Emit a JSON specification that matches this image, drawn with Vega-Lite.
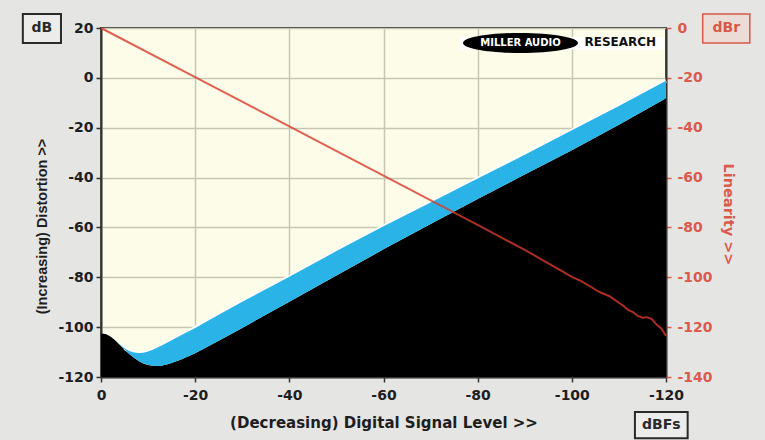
{
  "$schema": "https://vega.github.io/schema/vega-lite/v6.json",
  "width": 565,
  "height": 349,
  "autosize": {"type": "none"},
  "padding": {"left": 101, "top": 28, "right": 99, "bottom": 63},
  "background": "#e5e5e4",
  "config": {
    "view": {"fill": "#fcfce9", "stroke": "#333333", "strokeWidth": 2},
    "font": "DejaVu Sans",
    "axisX": {
      "labelFlush": false,
      "labelOverlap": false,
      "labelFont": "DejaVu Sans",
      "labelFontWeight": "bold",
      "labelFontSize": 14,
      "labelColor": "#1e1e1e",
      "labelPadding": 6,
      "tickSize": 5,
      "tickColor": "#333333",
      "tickWidth": 1.5,
      "domainColor": "#333333",
      "domainWidth": 2,
      "grid": true,
      "gridColor": "#c6c6b5",
      "gridWidth": 1.5,
      "titleFont": "DejaVu Sans",
      "titleFontWeight": "bold",
      "titleFontSize": 15,
      "titleColor": "#1e1e1e",
      "titlePadding": 13
    }
  },
  "datasets": {
    "band": [
      {"x": 0, "lower": -102.5, "upper": -102.5},
      {"x": -1, "lower": -102.8, "upper": -102.8},
      {"x": -2, "lower": -103.8, "upper": -103.8},
      {"x": -3, "lower": -105.3, "upper": -105.3},
      {"x": -4, "lower": -107.2, "upper": -107.0},
      {"x": -5, "lower": -109.0, "upper": -108.5},
      {"x": -6, "lower": -110.8, "upper": -109.6},
      {"x": -7, "lower": -112.3, "upper": -110.2},
      {"x": -8, "lower": -113.6, "upper": -110.4},
      {"x": -9, "lower": -114.6, "upper": -110.3},
      {"x": -10, "lower": -115.2, "upper": -109.8},
      {"x": -11, "lower": -115.5, "upper": -109.1},
      {"x": -12, "lower": -115.6, "upper": -108.2},
      {"x": -13, "lower": -115.4, "upper": -107.3},
      {"x": -14, "lower": -115.0, "upper": -106.3},
      {"x": -15, "lower": -114.4, "upper": -105.3},
      {"x": -17, "lower": -113.0, "upper": -103.3},
      {"x": -20, "lower": -110.5, "upper": -100.3},
      {"x": -25, "lower": -105.5, "upper": -95.0},
      {"x": -30, "lower": -100.3, "upper": -89.8},
      {"x": -40, "lower": -89.8, "upper": -79.8},
      {"x": -50, "lower": -79.3, "upper": -69.5},
      {"x": -60, "lower": -68.8, "upper": -59.5},
      {"x": -70, "lower": -58.6, "upper": -50.0},
      {"x": -80, "lower": -48.6, "upper": -40.4},
      {"x": -90, "lower": -38.8, "upper": -30.8},
      {"x": -100, "lower": -29.0, "upper": -21.0},
      {"x": -110, "lower": -18.8, "upper": -11.3},
      {"x": -120, "lower": -8.2, "upper": -1.2}
    ],
    "lin": [
      {"x": 0, "dbr": 0},
      {"x": -20, "dbr": -19.7},
      {"x": -40, "dbr": -39.5},
      {"x": -60, "dbr": -59.2},
      {"x": -80, "dbr": -79.0},
      {"x": -90, "dbr": -89.0},
      {"x": -95, "dbr": -94.4},
      {"x": -98, "dbr": -97.6},
      {"x": -100, "dbr": -99.8},
      {"x": -102, "dbr": -101.5},
      {"x": -104, "dbr": -103.8},
      {"x": -106, "dbr": -106.0},
      {"x": -108, "dbr": -107.6},
      {"x": -110, "dbr": -110.2},
      {"x": -111, "dbr": -111.5},
      {"x": -112, "dbr": -113.2},
      {"x": -113, "dbr": -114.0},
      {"x": -114, "dbr": -115.5},
      {"x": -115, "dbr": -116.2},
      {"x": -116, "dbr": -116.0},
      {"x": -117, "dbr": -116.8},
      {"x": -118, "dbr": -119.0},
      {"x": -119, "dbr": -120.5},
      {"x": -120, "dbr": -123.5}
    ]
  },
  "layer": [
    {
      "data": {"name": "band"},
      "mark": {"type": "area", "color": "#000000"},
      "encoding": {
        "x": {
          "field": "x", "type": "quantitative",
          "scale": {"domain": [-120, 0], "reverse": true, "nice": false},
          "axis": {
            "title": "(Decreasing) Digital Signal Level >>",
            "values": [0, -20, -40, -60, -80, -100, -120],
            "labelExpr": "toString(datum.value)"
          }
        },
        "y": {
          "field": "lower", "type": "quantitative",
          "scale": {"domain": [-120, 20], "nice": false},
          "axis": {
            "orient": "left",
            "values": [20, 0, -20, -40, -60, -80, -100, -120],
            "labelExpr": "toString(datum.value)",
            "labelFlush": false,
            "labelOverlap": false,
            "labelFont": "DejaVu Sans",
            "labelFontWeight": "bold",
            "labelFontSize": 14,
            "labelColor": "#1e1e1e",
            "labelPadding": 3,
            "tickSize": 5,
            "tickColor": "#333333",
            "tickWidth": 1.5,
            "domainColor": "#333333",
            "domainWidth": 2,
            "grid": true,
            "gridColor": "#c6c6b5",
            "gridWidth": 1.5,
            "title": "(Increasing) Distortion >>",
            "titleFont": "Liberation Sans",
            "titleFontWeight": "bold",
            "titleFontSize": 14.5,
            "titleColor": "#1e1e1e",
            "titlePadding": 8,
            "titleY": 198
          }
        },
        "y2": {"datum": -120}
      }
    },
    {
      "data": {"name": "band"},
      "transform": [{"filter": "datum.x <= -5"}],
      "mark": {"type": "line", "color": "#ffffff", "strokeWidth": 3.5},
      "encoding": {
        "x": {"field": "x", "type": "quantitative", "scale": {"domain": [-120, 0], "reverse": true, "nice": false}},
        "y": {"field": "upper", "type": "quantitative", "scale": {"domain": [-120, 20], "nice": false}, "axis": null}
      }
    },
    {
      "data": {"name": "band"},
      "mark": {"type": "area", "color": "#29b3e6"},
      "encoding": {
        "x": {"field": "x", "type": "quantitative", "scale": {"domain": [-120, 0], "reverse": true, "nice": false}},
        "y": {"field": "upper", "type": "quantitative", "scale": {"domain": [-120, 20], "nice": false}, "axis": null},
        "y2": {"field": "lower"}
      }
    },
    {
      "data": {"values": [{}]},
      "mark": {"type": "rect", "fill": "#ffffff", "clip": false},
      "encoding": {
        "x": {"datum": -76.2, "type": "quantitative", "scale": {"domain": [-120, 0], "reverse": true, "nice": false}},
        "x2": {"datum": -119.6},
        "y": {"datum": 16.4, "type": "quantitative", "scale": {"domain": [-120, 20], "nice": false}, "axis": null},
        "y2": {"datum": 11.4}
      }
    },
    {
      "data": {"values": [{}]},
      "mark": {
        "type": "point",
        "shape": "M-1,0C-1,-0.0961 -0.5523,-0.174 0,-0.174C0.5523,-0.174 1,-0.0961 1,0C1,0.0961 0.5523,0.174 0,0.174C-0.5523,0.174 -1,0.0961 -1,0Z",
        "filled": true, "color": "#000000", "opacity": 1, "size": 13225, "clip": false
      },
      "encoding": {
        "x": {"datum": -89.1, "type": "quantitative", "scale": {"domain": [-120, 0], "reverse": true, "nice": false}},
        "y": {"datum": 14, "type": "quantitative", "scale": {"domain": [-120, 20], "nice": false}, "axis": null}
      }
    },
    {
      "data": {"values": [{"t": "MILLER AUDIO"}]},
      "mark": {"type": "text", "font": "DejaVu Sans", "fontWeight": "bold", "fontSize": 10, "color": "#ffffff", "align": "center", "baseline": "middle", "clip": false},
      "encoding": {
        "x": {"datum": -89.1, "type": "quantitative", "scale": {"domain": [-120, 0], "reverse": true, "nice": false}},
        "y": {"datum": 14, "type": "quantitative", "scale": {"domain": [-120, 20], "nice": false}, "axis": null},
        "text": {"field": "t"}
      }
    },
    {
      "data": {"values": [{"t": "RESEARCH"}]},
      "mark": {"type": "text", "font": "DejaVu Sans", "fontWeight": "bold", "fontSize": 12, "color": "#111111", "align": "center", "baseline": "middle", "clip": false},
      "encoding": {
        "x": {"datum": -110.3, "type": "quantitative", "scale": {"domain": [-120, 0], "reverse": true, "nice": false}},
        "y": {"datum": 14.2, "type": "quantitative", "scale": {"domain": [-120, 20], "nice": false}, "axis": null},
        "text": {"field": "t"}
      }
    },
    {
      "data": {"values": [{}]},
      "mark": {"type": "rect", "fill": "#ececea", "stroke": "#2a2a2a", "strokeWidth": 2, "clip": false},
      "encoding": {
        "x": {"datum": 16.6, "type": "quantitative", "scale": {"domain": [-120, 0], "reverse": true, "nice": false}},
        "x2": {"datum": 8.5},
        "y": {"datum": 25.6, "type": "quantitative", "scale": {"domain": [-120, 20], "nice": false}, "axis": null},
        "y2": {"datum": 14}
      }
    },
    {
      "data": {"values": [{}]},
      "mark": {"type": "rect", "fill": "#ecdcd6", "stroke": "#d9584a", "strokeWidth": 1.5, "clip": false},
      "encoding": {
        "x": {"datum": -127.8, "type": "quantitative", "scale": {"domain": [-120, 0], "reverse": true, "nice": false}},
        "x2": {"datum": -137.8},
        "y": {"datum": 25.6, "type": "quantitative", "scale": {"domain": [-120, 20], "nice": false}, "axis": null},
        "y2": {"datum": 14}
      }
    },
    {
      "data": {"values": [{}]},
      "mark": {"type": "rect", "fill": "#ececea", "stroke": "#2a2a2a", "strokeWidth": 2, "clip": false},
      "encoding": {
        "x": {"datum": -113.4, "type": "quantitative", "scale": {"domain": [-120, 0], "reverse": true, "nice": false}},
        "x2": {"datum": -124.6},
        "y": {"datum": -134.0, "type": "quantitative", "scale": {"domain": [-120, 20], "nice": false}, "axis": null},
        "y2": {"datum": -144.6}
      }
    },
    {
      "data": {"values": [{"t": "dB"}]},
      "mark": {"type": "text", "font": "DejaVu Sans", "fontWeight": "bold", "fontSize": 14, "color": "#2a2a2a", "align": "center", "baseline": "middle", "clip": false},
      "encoding": {
        "x": {"datum": 12.55, "type": "quantitative", "scale": {"domain": [-120, 0], "reverse": true, "nice": false}},
        "y": {"datum": 19.8, "type": "quantitative", "scale": {"domain": [-120, 20], "nice": false}, "axis": null},
        "text": {"field": "t"}
      }
    },
    {
      "data": {"values": [{"t": "dBr"}]},
      "mark": {"type": "text", "font": "DejaVu Sans", "fontWeight": "bold", "fontSize": 14, "color": "#d9584a", "align": "center", "baseline": "middle", "clip": false},
      "encoding": {
        "x": {"datum": -132.8, "type": "quantitative", "scale": {"domain": [-120, 0], "reverse": true, "nice": false}},
        "y": {"datum": 19.8, "type": "quantitative", "scale": {"domain": [-120, 20], "nice": false}, "axis": null},
        "text": {"field": "t"}
      }
    },
    {
      "data": {"values": [{"t": "dBFs"}]},
      "mark": {"type": "text", "font": "DejaVu Sans", "fontWeight": "bold", "fontSize": 14, "color": "#2a2a2a", "align": "center", "baseline": "middle", "clip": false},
      "encoding": {
        "x": {"datum": -119.0, "type": "quantitative", "scale": {"domain": [-120, 0], "reverse": true, "nice": false}},
        "y": {"datum": -139.3, "type": "quantitative", "scale": {"domain": [-120, 20], "nice": false}, "axis": null},
        "text": {"field": "t"}
      }
    },
    {
      "data": {"name": "lin"},
      "mark": {"type": "line", "color": "#d83a2c", "opacity": 0.8, "strokeWidth": 2},
      "encoding": {
        "x": {"field": "x", "type": "quantitative", "scale": {"domain": [-120, 0], "reverse": true, "nice": false}},
        "y": {
          "field": "dbr", "type": "quantitative",
          "scale": {"domain": [-140, 0], "nice": false},
          "axis": {
            "orient": "right",
            "values": [0, -20, -40, -60, -80, -100, -120, -140],
            "labelExpr": "toString(datum.value)",
            "labelFlush": false,
            "labelOverlap": false,
            "labelFont": "DejaVu Sans",
            "labelFontWeight": "bold",
            "labelFontSize": 14,
            "labelColor": "#dc5a4b",
            "labelPadding": 6,
            "tickSize": 5,
            "tickColor": "#dc5a4b",
            "tickWidth": 1.5,
            "domainColor": "#333333",
            "domainWidth": 2,
            "grid": false,
            "title": "Linearity >>",
            "titleFont": "DejaVu Sans",
            "titleFontWeight": "bold",
            "titleFontSize": 14.5,
            "titleColor": "#dc5a4b",
            "titlePadding": 8,
            "titleY": 186
          }
        }
      }
    }
  ],
  "resolve": {"scale": {"y": "independent"}, "axis": {"y": "independent"}}
}
